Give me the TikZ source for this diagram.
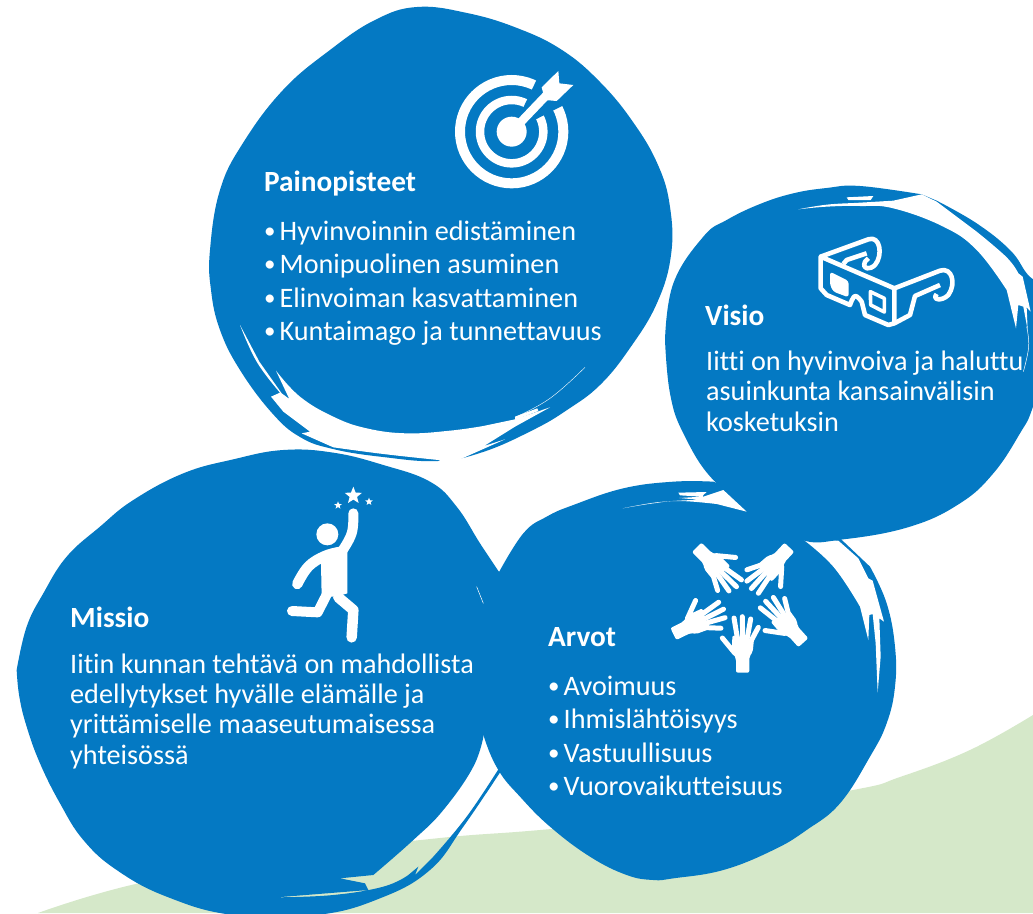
\documentclass[tikz,border=0pt]{standalone}
\usepackage{fontspec}
\setmainfont[Ligatures=NoCommon]{Carlito}
\usetikzlibrary{shapes.geometric}
\definecolor{blobblue}{HTML}{0479C3}
\definecolor{hill}{HTML}{D5E8C9}
\tikzset{
  sm/.style={smooth,tension=0.7},
  blob/.style={fill=blobblue,draw=none},
  gap/.style={fill=white,draw=none},
  headtext/.style={anchor=base west,inner sep=0pt,text=white,font=\fontsize{29.3}{29}\selectfont\bfseries},
  bodytext/.style={anchor=base west,inner sep=0pt,text=white,font=\fontsize{28.2}{28}\selectfont},
  zoomthird/.style={scale=0.33333},
  icon/.style={white,line join=round},
  finger/.style={white,line width=5pt,line cap=round}
}
\newcommand{\bul}{\makebox[15.5pt][l]{\raisebox{1.2pt}{\fontsize{23}{23}\selectfont •}}}
\newcommand{\handshape}{%
  \fill[white,rounded corners=2pt] (-31,-112) -- (34,-100) -- (30,-62) -- (20,-48) -- (20,0) -- (-20,0) -- (-20,-42) -- (-32,-65) -- cycle;
  \draw[finger] (-26,-164) -- (-16,-105);
  \draw[finger] (-1,-168) -- (0,-105);
  \draw[finger] (24,-161) -- (14,-105);
  \draw[finger] (47,-136) -- (25,-95);
  \draw[finger] (-61,-104) -- (-23,-58);
}
\begin{document}
\begin{tikzpicture}[x=1pt,y=-1pt]
\path[use as bounding box,fill=white] (0,0) rectangle (1033,913);
\clip (0,0) rectangle (1033,913);
% hill
\fill[hill] plot[sm] coordinates {(38,913) (140,883) (300,855) (440,838) (540,830) (700,815) (853,790) (900,777) (970,750) (1033,715)} -- (1033,913) -- cycle;
% Painopisteet blob
\fill[blob] plot[smooth cycle,tension=0.7] coordinates {(417,7) (467,13) (517,28) (562,50) (600,82) (633,122) (658,165) (670,207) (671,255) (657,303) (630,348) (600,385) (567,410) (533,430) (483,452) (438,461) (383,457) (333,449) (300,437) (272,413) (240,370) (220,330) (211,290) (210,250) (220,190) (243,143) (283,90) (330,50) (375,20)};
\begin{scope}[shift={(200,330)},zoomthird]
\fill[gap] plot[sm] coordinates {(120,-15) (170,95) (240,188)} -- (213,200) -- plot[sm] coordinates {(250,245) (330,305)} -- (305,310) -- plot[sm] coordinates {(400,352) (550,372) (715,390)} -- (745,405) -- (780,388) -- (915,328) -- (852,348) -- (945,290) -- (1050,232) -- (945,268) -- plot[sm] coordinates {(850,288) (750,302) (620,310) (500,295) (400,260) (300,200) (228,122)} -- (268,207) -- (245,190) -- plot[sm] coordinates {(178,95) (120,-15)} -- cycle;
\fill[gap] (945,260) -- (1012,235) -- (1015,243) -- (945,270) -- cycle;
\draw[white,line width=0.4pt] plot[sm] coordinates {(945,262) (1050,205) (1155,112)};
\end{scope}
% Missio blob
\begin{scope}[shift={(0,450)},zoomthird]
\fill[blob] plot[sm] coordinates {(50,660) (80,530) (130,430) (200,320) (300,230) (400,150) (550,70) (700,28) (850,0) (1000,8) (1150,45) (1290,95) (1370,170) (1440,280) (1500,370)} -- (1530,600) -- plot[sm] coordinates {(1452,850) (1420,950) (1330,1080) (1240,1170) (1120,1275)} -- (1020,1285) -- (1095,1300) -- (1105,1320) -- plot[sm] coordinates {(830,1342) (1000,1335) (1150,1310) (1225,1275)} -- (1255,1250) -- (1245,1275) -- plot[sm] coordinates {(1300,1220) (1400,1100) (1497,955)} -- plot[sm] coordinates {(1505,960) (1390,1130) (1290,1260) (1140,1345) (950,1395) (700,1395) (500,1340) (350,1260) (250,1170) (180,1060) (120,940) (80,830) (58,740) (50,660)} -- cycle;
\end{scope}
\node[headtext] (missiohead) at (70,627) {Missio};
\node[bodytext] (missio1) at (70,673) {Iitin kunnan tehtävä on mahdollistaa};
\node[bodytext] (missio2) at (70,703) {edellytykset hyvälle elämälle ja};
\node[bodytext] (missio3) at (70,733) {yrittämiselle maaseutumaisessa};
\node[bodytext] (missio4) at (70,764) {yhteisössä};
% Arvot blob
\begin{scope}[shift={(440,470)},zoomthird]
\fill[blob] plot[sm] coordinates {(175,310) (250,190) (320,140) (400,105) (550,55) (700,35) (820,35)} -- (1000,100) -- (1195,200) -- plot[sm] coordinates {(1290,290) (1340,400) (1365,530) (1365,650) (1340,760) (1290,860) (1200,1000) (1100,1080) (1000,1140) (850,1200) (700,1225) (640,1230) (560,1215) (450,1160) (330,1070) (240,980) (175,900) (130,795) (105,690) (100,590) (110,480) (135,400) (175,310)} -- cycle;
\fill[gap] plot[sm] coordinates {(548,115) (650,97) (760,90)} -- (850,60) -- (920,125) -- plot[sm] coordinates {(830,102) (720,93) (640,100) (548,115)} -- cycle;
\fill[gap] (715,68) -- (800,66) -- (790,75) -- (785,90) -- (718,84) -- (785,80) -- (720,76) -- cycle;
\fill[gap] (1085,205) -- (1195,212) -- plot[sm] coordinates {(1255,265) (1285,325)} -- (1298,332) -- (1332,455) -- (1318,445) -- (1322,560) -- (1313,668) -- (1307,520) -- (1298,432) -- (1288,435) -- (1285,510) -- plot[sm] coordinates {(1260,410) (1180,290) (1085,205)} -- cycle;
\draw[white,line width=0.5pt] (110,350) -- (130,400);
\end{scope}
% Visio blob
\begin{scope}[shift={(660,180)},zoomthird]
\fill[blob] plot[sm] coordinates {(15,480) (40,310) (130,170) (200,120) (300,72) (400,40) (500,24) (600,18) (785,43)} -- plot[sm] coordinates {(830,62) (950,130) (1050,210) (1100,280) (1150,340) (1170,500) (1119,680) (1080,760) (1000,880) (900,970) (750,1040) (550,1078) (420,1078) (290,990) (160,900) (70,760) (30,640) (15,480)} -- cycle;
\fill[gap] plot[sm] coordinates {(415,88) (500,74) (600,68) (700,62)} -- (785,43) -- (830,65) -- plot[sm] coordinates {(950,155) (1040,232) (1075,280)} -- (1088,290) -- (1112,395) -- (1100,382) -- (1103,450) -- (1090,380) -- (1075,375) -- (1068,445) -- plot[sm] coordinates {(1040,330) (950,210) (850,140) (700,85) (600,78) (500,80) (415,88)} -- cycle;
\fill[gap] (560,52) -- (640,48) -- (632,60) -- (565,60) -- cycle;
\draw[white,line width=0.5pt] plot[sm] coordinates {(1100,440) (1106,500) (1090,575)};
\end{scope}
% Target icon
\begin{scope}[shift={(430,50)},zoomthird]
\draw[white,line width=10pt] (245,245) circle (155);
\draw[white,line width=8.5pt] (245,245) circle (95);
\fill[blobblue] (245,245) -- (322,85) -- (402,165) -- cycle;
\fill[white] (245,245) circle (45);
\draw[white,line width=8.5pt] (245,245) -- (350,135);
\fill[white] (335,112) -- (385,63) -- (388,100) -- (430,105) -- (380,153) -- (345,150) -- cycle;
\end{scope}
% 3D glasses icon
\begin{scope}[shift={(800,220)},zoomthird]
\draw[icon,line width=4.6pt] (62,110) -- (283,205) -- (283,310) -- (265,315) -- (195,285) -- plot[sm] coordinates {(185,245) (165,228) (150,255)} -- (80,225) -- (62,205) -- cycle;
\draw[icon,line width=4.6pt] (62,110) -- (205,58) .. controls (240,45) and (250,105) .. (225,135) .. controls (210,150) and (185,150) .. (195,125) -- (205,115);
\draw[icon,line width=4.6pt] (130,132) -- (140,120) -- (200,100);
\draw[icon,line width=4.6pt] (283,205) -- (420,152) .. controls (455,140) and (470,190) .. (445,225) .. controls (425,245) and (395,240) .. (410,222);
\draw[icon,line width=4.6pt] (283,310) -- (330,285) -- (345,228) -- (420,195);
\fill[white,rounded corners=3pt] (90,155) -- (146,183) -- (146,232) -- (100,215) -- (90,195) -- cycle;
\draw[icon,line width=3.6pt] (211,215) -- (253,235) -- (253,276) -- (212,255) -- cycle;
\end{scope}
% Person icon
\begin{scope}[shift={(270,480)},zoomthird]
\fill[white] (172,163) circle (33);
\fill[white] (153,250) -- (232,205) -- (232,340) -- (200,350) -- (155,350) -- cycle;
\draw[white,line width=10pt,line cap=round] plot[sm] coordinates {(250,100) (245,160) (215,215)};
\draw[white,line width=10.5pt,line cap=round] plot[sm] coordinates {(82,312) (115,260) (165,228) (215,215)};
\draw[white,line width=10.5pt,line cap=round,line join=round] (205,352) -- (250,390) -- (245,472);
\draw[white,line width=10pt,line cap=round,line join=round] (172,340) -- (143,397) -- (66,393);
\node[star,star points=5,star point ratio=2.3,fill=white,minimum size=18pt,inner sep=0pt] (starbig) at (250,47) {};
\node[star,star points=5,star point ratio=2.3,fill=white,minimum size=8pt,inner sep=0pt] (starleft) at (204,76) {};
\node[star,star points=5,star point ratio=2.3,fill=white,minimum size=8pt,inner sep=0pt] (starright) at (297,65) {};
\end{scope}
% Hands icon
\begin{scope}[shift={(660,530)},zoomthird]
  \begin{scope}[shift={(248,428)},rotate=0]\handshape\end{scope}
  \begin{scope}[shift={(430,338)},rotate=42]\handshape\end{scope}
  \begin{scope}[shift={(388,52)},rotate=137]\handshape\end{scope}
  \begin{scope}[shift={(110,52)},rotate=225]\handshape\end{scope}
  \begin{scope}[shift={(40,312)},rotate=296]\handshape\end{scope}
\end{scope}
% Texts
\node[headtext] (painohead) at (264,191) {Painopisteet};
\node[bodytext] (paino1) at (264,240) {\bul Hyvinvoinnin edistäminen};
\node[bodytext] (paino2) at (264,273) {\bul Monipuolinen asuminen};
\node[bodytext] (paino3) at (264,307) {\bul Elinvoiman kasvattaminen};
\node[bodytext] (paino4) at (264,340) {\bul Kuntaimago ja tunnettavuus};
\node[headtext] (visiohead) at (705,325) {Visio};
\node[bodytext] (visio1) at (706,370) {Iitti on hyvinvoiva ja haluttu};
\node[bodytext] (visio2) at (706,400) {asuinkunta kansainvälisin};
\node[bodytext] (visio3) at (706,431) {kosketuksin};
\node[headtext] (arvothead) at (548,646) {Arvot};
\node[bodytext] (arvot1) at (548,695) {\bul Avoimuus};
\node[bodytext] (arvot2) at (548,728) {\bul Ihmislähtöisyys};
\node[bodytext] (arvot3) at (548,762) {\bul Vastuullisuus};
\node[bodytext] (arvot4) at (548,795) {\bul Vuorovaikutteisuus};
\end{tikzpicture}
\end{document}
